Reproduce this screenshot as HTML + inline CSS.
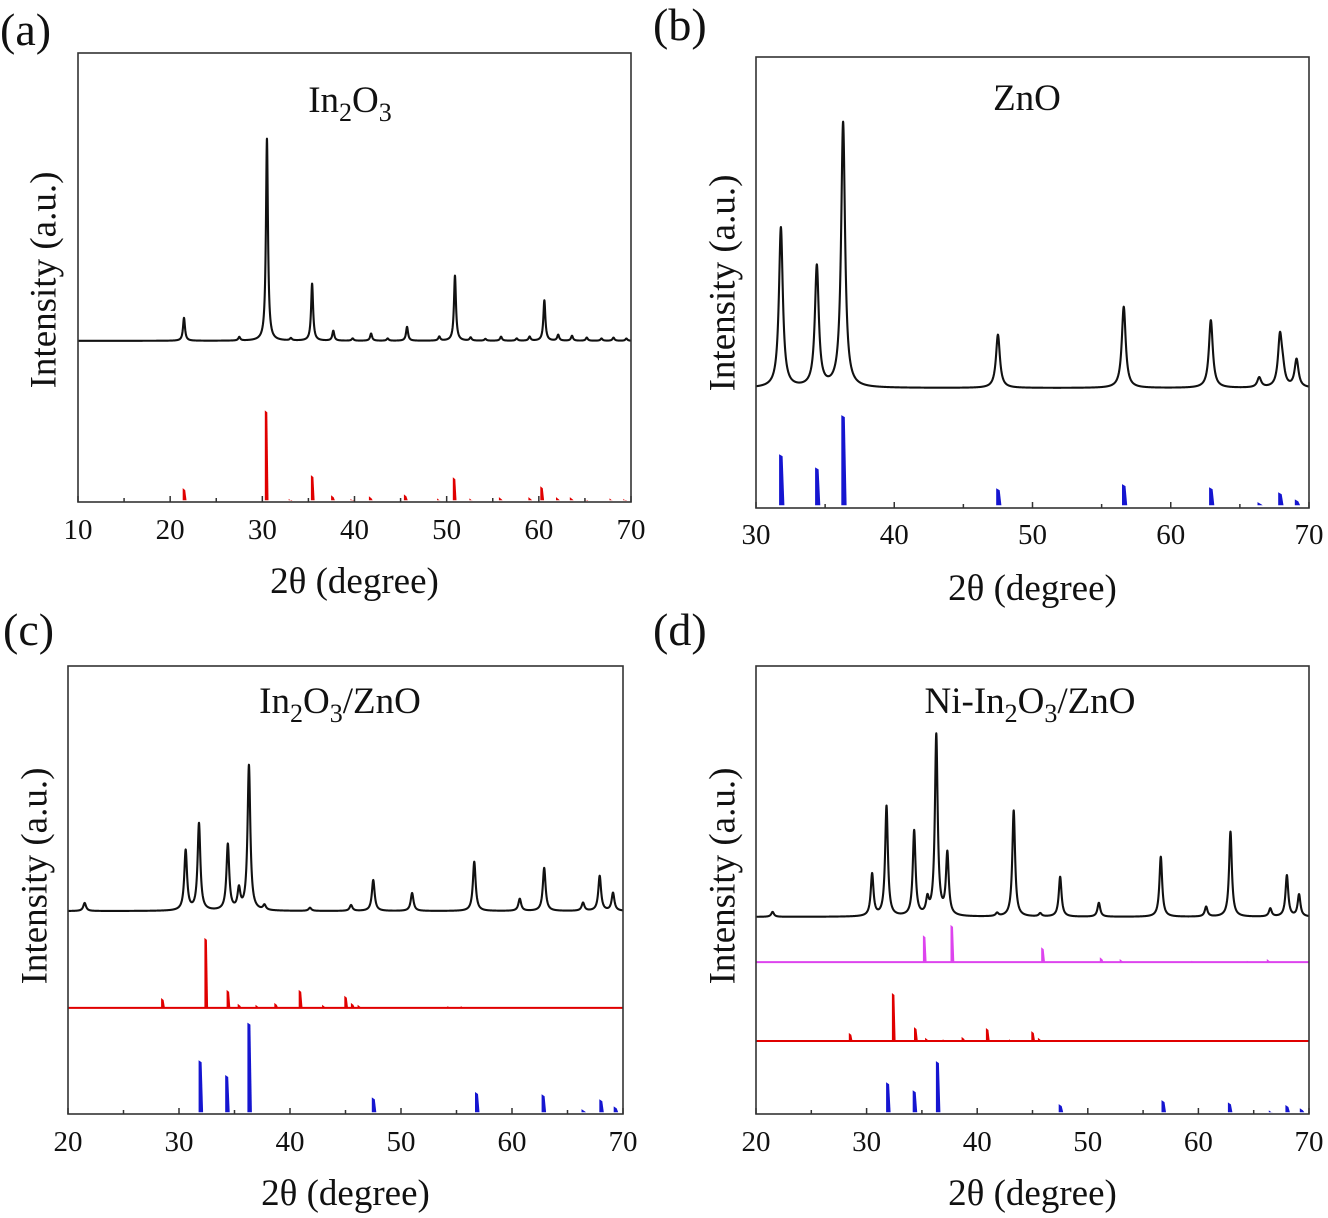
<!DOCTYPE html>
<html><head><meta charset="utf-8"><style>
html,body{margin:0;padding:0;background:#fff;}
svg{display:block;font-family:"Liberation Serif",serif;}
</style></head><body>
<svg id="fig" width="1328" height="1218" viewBox="0 0 1328 1218" xmlns="http://www.w3.org/2000/svg"></svg>
<script>
// ---------- Panel (a) In2O3 ----------
const aPeakPos=[21.5,27.5,30.5,33.1,35.4,37.7,39.8,41.8,43.6,45.7,49.2,50.9,52.6,54.2,55.9,57.6,59.0,60.6,62.1,63.6,65.2,66.8,68.1,69.5];
const aPeakAmp=[5.1,0.8,45,0.5,12.7,2.2,0.5,1.6,0.5,3.1,0.9,14.5,0.7,0.4,0.9,0.5,0.9,9.0,1.3,1.1,0.7,0.5,0.7,0.5];
const aBase=[35.9];
const aRefPos=[21.5,30.4,33.0,35.4,37.6,39.7,41.7,45.5,49.1,50.8,52.6,55.8,59.0,60.3,62.0,63.5,65.1,67.8,69.3];
const aRefAmp=[2.7,20,0.3,5.6,1.1,0.3,0.9,1.3,0.4,5.1,0.4,0.7,0.7,3.1,0.7,0.7,0.3,0.4,0.3];
// ---------- Panel (b) ZnO ----------
const bPeakPos=[31.8,34.4,36.3,47.5,56.6,62.9,66.4,67.9,68.1,69.1];
const bPeakAmp=[35.5,26.8,58.8,11.8,18,15,2.2,11,3,6.2];
const bBase=[26.6];
const bRefPos=[31.8,34.4,36.3,47.5,56.6,62.9,66.4,67.9,69.1];
const bRefAmp=[11.3,8.4,20,3.8,4.7,4.0,0.7,2.9,1.3];
// ---------- Panel (c) In2O3/ZnO ----------
const cPeakPos=[21.5,30.6,31.8,34.4,35.4,36.3,37.7,41.8,45.5,47.5,51.0,56.6,60.7,62.9,66.4,67.9,69.1];
const cPeakAmp=[1.8,13.4,19.4,14.7,4.5,32.4,1.1,0.7,1.3,6.9,4.0,11,2.7,9.6,1.8,7.8,4.0];
const cBase=[45.3];
const cRedPos=[28.5,32.4,34.4,35.4,37.0,38.7,40.9,43.0,45.0,45.6,46.2,54.3,55.5];
const cRedAmp=[2.2,15.6,4.0,0.9,0.7,1.1,4.0,0.7,2.7,1.1,0.7,0.4,0.4];
const cRedBase=[23.7];
const cBluePos=[31.9,34.3,36.3,47.5,56.8,62.8,66.4,68.0,69.3];
const cBlueAmp=[11.6,8.3,20,3.3,4.5,4.0,0.7,2.9,1.3];
const cBlueBase=[0.4];
// ---------- Panel (d) Ni-In2O3/ZnO ----------
const dPeakPos=[21.5,30.5,31.8,34.3,35.5,36.3,37.3,41.8,43.3,45.7,47.5,51.0,56.6,60.7,62.9,66.5,68.0,69.1];
const dPeakAmp=[1.1,9.4,24.6,19,3.3,40.4,13.8,0.7,23.7,0.7,8.9,3.1,13.4,2.2,19,1.8,9.2,4.9];
const dBase=[44];
const dMagPos=[35.2,37.7,45.9,51.2,53.0,59.5,64.5,66.3];
const dMagAmp=[6,8.3,3.3,1.1,0.7,0.3,0.3,0.7];
const dMagBase=[33.9];
const dRedPos=[28.5,32.4,34.4,35.4,37.0,38.7,40.9,43.0,45.0,45.6];
const dRedAmp=[1.8,10.7,3.1,0.7,0.4,0.9,2.9,0.4,2.2,0.7];
const dRedBase=[16.3];
const dBluePos=[31.9,34.3,36.4,47.5,56.8,62.8,66.5,68.0,69.3];
const dBlueAmp=[6.7,4.9,11.4,1.8,2.7,2.2,0.4,1.6,0.9];
const dBlueBase=[0.4];

const NS="http://www.w3.org/2000/svg";
const svg=document.getElementById('fig');
function mk(tag,attrs,parent){const e=document.createElementNS(NS,tag);for(const k in attrs)e.setAttribute(k,attrs[k]);(parent||svg).appendChild(e);return e;}

function makePanel(key,box,xmin,xmax,tickStep){
  const g=mk('g',{});
  
  
  const xs=v=>box.x0+(v-xmin)/(xmax-xmin)*(box.x1-box.x0);
  const ys=v=>box.y1-v*(box.y1-box.y0)/100;
  return {g,xs,ys,box,xmin,xmax,tickStep};
}
function drawCurve(P,pos,amp,base,w,name){
  let d='';
  for(let x=P.xmin;x<=P.xmax+1e-9;x+=0.01){
    let v=base;
    for(let i=0;i<pos.length;i++){const t=(x-pos[i])/w;v+=amp[i]/(1+t*t);}
    d+=(d?'L':'M')+P.xs(x).toFixed(2)+','+P.ys(v).toFixed(2);
  }
  const p=mk('path',{d:d,fill:'none',stroke:'#111','stroke-width':2.1,'stroke-linejoin':'round'},P.g);
  
  
}
function drawSticks(P,pos,amp,base,color,wpx,name,baseLine){
  const g=mk('g',{},P.g);
  
  
  if(baseLine){
    const l=mk('line',{x1:P.box.x0,x2:P.box.x1,y1:P.ys(base),y2:P.ys(base),stroke:color,'stroke-width':2},g);
    
    
  }
  for(let i=0;i<pos.length;i++){
    const x=P.xs(pos[i]),y0=P.ys(base),y1=P.ys(base+amp[i]);
    const pts=[[x-wpx/2,y0],[x-wpx/2,y1],[x+wpx/2,y1+2],[x+wpx,y0]].map(p=>p[0].toFixed(1)+','+p[1].toFixed(1)).join(' ');
    const s=mk('polygon',{points:pts,fill:color},g);
    
    
  }
}
function drawAxes(P,tickY,titleY,ylab,title,titleY2,label,labelX,labelY){
  const b=P.box;
  const r=mk('rect',{x:b.x0,y:b.y0,width:b.x1-b.x0,height:b.y1-b.y0,fill:'none',stroke:'#333','stroke-width':1.6},P.g);
  
  
  for(let v=P.xmin;v<=P.xmax+1e-9;v+=5){
    const major=Math.abs((v-P.xmin)%P.tickStep)<1e-6;
    const t=mk('line',{x1:P.xs(v),x2:P.xs(v),y1:b.y1,y2:b.y1-(major?6:4),stroke:'#333','stroke-width':1.5},P.g);
    
    
    if(major){
      const tl=mk('text',{x:P.xs(v),y:tickY,'font-size':29,'text-anchor':'middle',fill:'#111'},P.g);
      tl.textContent=String(v);
      
      
    }
  }
  const xt=mk('text',{x:(b.x0+b.x1)/2,y:titleY,'font-size':37,'text-anchor':'middle',fill:'#111'},P.g);
  xt.textContent='2θ (degree)';
  
  
  const yt=mk('text',{x:0,y:0,'font-size':37,'text-anchor':'middle','dominant-baseline':'central',fill:'#111',transform:'translate('+ylab[0]+','+ylab[1]+') rotate(-90)'},P.g);
  yt.textContent='Intensity (a.u.)';
  
  
  const tt=mk('text',{x:title[0],y:titleY2,'font-size':37,'text-anchor':'middle',fill:'#111'},P.g);
  tt.innerHTML=title[1];
  
  
  const pl=mk('text',{x:labelX,y:labelY,'font-size':46,fill:'#111'},P.g);
  pl.textContent=label;
  
  
}
const sub=s=>'<tspan dy="9" font-size="26">'+s+'</tspan><tspan dy="-9">';
// (a)
let A=makePanel('a',{x0:78,x1:631,y0:53,y1:502},10,70,10);
drawSticks(A,aRefPos,aRefAmp,0.4,'#e00000',2.5,'in2o3-reference',false);
drawCurve(A,aPeakPos,aPeakAmp,aBase[0],0.13,'in2o3-pattern');
drawAxes(A,539,593,[44,280],[350,'In'+sub('2')+'O'+sub('3')+'</tspan></tspan>'],112,'(a)',0,45);
// (b)
let B=makePanel('b',{x0:756,x1:1309,y0:57,y1:508},30,70,10);
drawSticks(B,bRefPos,bRefAmp,0.6,'#1515d0',3.5,'zno-reference',false);
drawCurve(B,bPeakPos,bPeakAmp,bBase[0],0.17,'zno-pattern');
drawAxes(B,544,600,[723,283],[1027,'ZnO'],110,'(b)',653,40);
// (c)
let C=makePanel('c',{x0:68,x1:623,y0:666,y1:1114},20,70,10);
drawSticks(C,cBluePos,cBlueAmp,cBlueBase[0],'#1515d0',3,'zno-reference',false);
drawSticks(C,cRedPos,cRedAmp,cRedBase[0],'#e00000',2.5,'in2o3-reference',true);
drawCurve(C,cPeakPos,cPeakAmp,cBase[0],0.15,'in2o3-zno-pattern');
drawAxes(C,1151,1205,[35,876],[340,'In'+sub('2')+'O'+sub('3')+'/ZnO</tspan></tspan>'],713,'(c)',3,645);
// (d)
let D=makePanel('d',{x0:756,x1:1309,y0:666,y1:1114},20,70,10);
drawSticks(D,dBluePos,dBlueAmp,dBlueBase[0],'#1515d0',3,'zno-reference',false);
drawSticks(D,dRedPos,dRedAmp,dRedBase[0],'#e00000',2.5,'in2o3-reference',true);
drawSticks(D,dMagPos,dMagAmp,dMagBase[0],'#dd44ee',2.5,'nio-reference',true);
drawCurve(D,dPeakPos,dPeakAmp,dBase[0],0.15,'ni-in2o3-zno-pattern');
drawAxes(D,1151,1205,[723,876],[1030,'Ni-In'+sub('2')+'O'+sub('3')+'/ZnO</tspan></tspan>'],713,'(d)',653,645);
</script>
</body></html>
